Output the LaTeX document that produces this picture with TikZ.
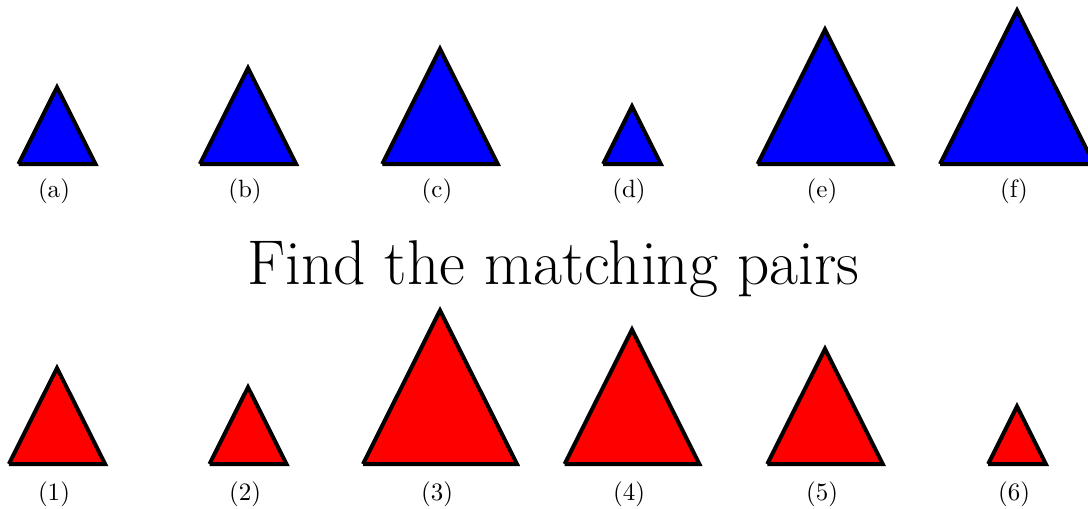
\documentclass[tikz,border=0pt]{standalone}
\begin{document}
\begin{tikzpicture}[x=0.4pt,y=-0.4pt,
  tri/.style={line width=1.6pt, line join=miter, draw=black},
  lab/.style={font=\normalsize, inner sep=0pt},
  ttl/.style={font=\fontsize{25.3}{30}\selectfont, inner sep=0pt, anchor=base}]
\useasboundingbox (0,0) rectangle (1088,508);
% top row
\foreach \cx/\n/\l [count=\i] in {57/4/a, 248/5/b, 440/6/c, 632/3/d, 825/7/e, 1017/8/f} {
  \pgfmathsetmacro\hw{\n*19.25/2}
  \pgfmathsetmacro\h{\n*19.25*0.997}
  \coordinate (tl\i) at (\cx-\hw,164);
  \coordinate (tt\i) at (\cx,164-\h);
  \coordinate (tr\i) at (\cx+\hw,164);
  \filldraw[tri, fill=blue] (tl\i) -- (tt\i) -- (tr\i) -- (tl\i);
  \node[lab] (la\i) at (\cx-3,191.5) {(\l)};
}
% title
\node[ttl] (title) at (553.5,284.5) {Find the matching pairs};
% bottom row
\foreach \cx/\n/\l [count=\i] in {57/5/1, 248/4/2, 440/8/3, 632/7/4, 825/6/5, 1017/3/6} {
  \pgfmathsetmacro\hw{\n*19.25/2}
  \pgfmathsetmacro\h{\n*19.25*0.997}
  \coordinate (bl\i) at (\cx-\hw,464);
  \coordinate (bt\i) at (\cx,464-\h);
  \coordinate (br\i) at (\cx+\hw,464);
  \filldraw[tri, fill=red] (bl\i) -- (bt\i) -- (br\i) -- (bl\i);
  \node[lab] (lb\i) at (\cx-3,494) {(\l)};
}
\end{tikzpicture}
\end{document}
